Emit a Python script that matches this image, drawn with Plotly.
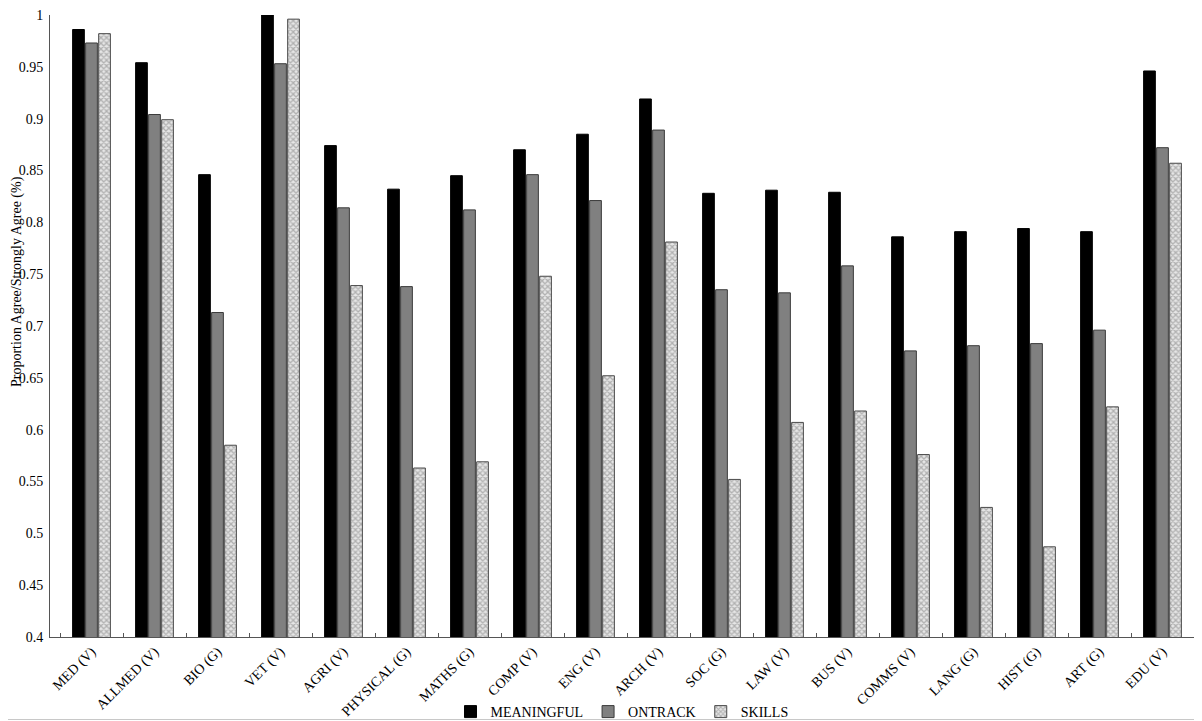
import plotly.graph_objects as go

categories = ["MED (V)", "ALLMED (V)", "BIO (G)", "VET (V)", "AGRI (V)", "PHYSICAL (G)",
              "MATHS (G)", "COMP (V)", "ENG (V)", "ARCH (V)", "SOC (G)", "LAW (V)",
              "BUS (V)", "COMMS (V)", "LANG (G)", "HIST (G)", "ART (G)", "EDU (V)"]
meaningful = [0.986, 0.954, 0.846, 1.000, 0.874, 0.832, 0.845, 0.870, 0.885, 0.919,
              0.828, 0.831, 0.829, 0.786, 0.791, 0.794, 0.791, 0.946]
ontrack = [0.973, 0.904, 0.713, 0.953, 0.814, 0.738, 0.812, 0.846, 0.821, 0.889,
           0.735, 0.732, 0.758, 0.676, 0.681, 0.683, 0.696, 0.872]
skills = [0.982, 0.899, 0.585, 0.996, 0.739, 0.563, 0.569, 0.748, 0.652, 0.781,
          0.552, 0.607, 0.618, 0.576, 0.525, 0.487, 0.622, 0.857]
y_ticks = [0.4, 0.45, 0.5, 0.55, 0.6, 0.65, 0.7, 0.75, 0.8, 0.85, 0.9, 0.95, 1.0]
y_tick_text = ["0.4", "0.45", "0.5", "0.55", "0.6", "0.65", "0.7", "0.75", "0.8",
               "0.85", "0.9", "0.95", "1"]
y_title = "Proportion Agree/Strongly Agree (%)"

FONT = "Liberation Serif, Times New Roman, serif"

fig = go.Figure()
fig.add_trace(go.Bar(name="MEANINGFUL", x=categories, y=meaningful,
                     marker=dict(color="#000000", line=dict(color="#000000", width=1))))
fig.add_trace(go.Bar(name="ONTRACK", x=categories, y=ontrack,
                     marker=dict(color="#808080", line=dict(color="#3a3a3a", width=1))))
fig.add_trace(go.Bar(name="SKILLS", x=categories, y=skills,
                     marker=dict(color="#d0d0d0", line=dict(color="#4a4a4a", width=1),
                                 pattern=dict(shape="x", fgcolor="#7a7a7a", bgcolor="#e6e6e6",
                                              size=4, solidity=0.55))))

# page body has an 8px margin, so the figure is drawn 8px right and down
W, H = 1194, 713
ml, mr, mt, mb = 42, 8, 7, 84
pw, ph = W - ml - mr, H - mt - mb

fig.update_layout(
    width=W, height=H,
    margin=dict(l=ml, r=mr, t=mt, b=mb, pad=0, autoexpand=False),
    paper_bgcolor="white", plot_bgcolor="white",
    barmode="group", bargap=0.38, bargroupgap=0.1,
    font=dict(family=FONT, color="#000000", size=14),
    showlegend=True,
    legend=dict(orientation="h", x=0.5, xanchor="center", y=-(704 - 629) / ph, yanchor="middle",
                font=dict(family=FONT, size=14), itemwidth=30, traceorder="normal",
                bgcolor="rgba(0,0,0,0)", tracegroupgap=0),
    xaxis=dict(range=[-0.5 - 10 / 63, 17.5], showline=True, linecolor="#555555", linewidth=1,
               tickangle=-45, ticks="inside", ticklen=4, tickcolor="#555555",
               tickson="boundaries", tickfont=dict(family=FONT, size=14),
               showgrid=False, zeroline=False, automargin=False),
    yaxis=dict(range=[0.4, 1.0], tickvals=y_ticks, ticktext=y_tick_text,
               showline=True, linecolor="#555555", linewidth=1, ticks="",
               showgrid=False, zeroline=False, tickfont=dict(family=FONT, size=14),
               automargin=False, ticklabeloverflow="allow", ticklabelstandoff=3),
    annotations=[dict(text=y_title, textangle=-90, xref="paper", yref="paper",
                      x=(9 - ml) / pw, y=(629 - 274) / ph, xanchor="center", yanchor="middle",
                      showarrow=False, font=dict(family=FONT, size=14))],
    shapes=[dict(type="line", xref="paper", yref="paper",
                 x0=1 + (mr - 1.5) / pw, x1=1 + (mr - 1.5) / pw,
                 y0=(-mb + 1.5) / ph, y1=1 + mt / ph,
                 line=dict(color="#c8c8c8", width=1)),
            dict(type="line", xref="paper", yref="paper",
                 x0=-ml / pw, x1=1 + (mr - 1.5) / pw,
                 y0=(-mb + 1.5) / ph, y1=(-mb + 1.5) / ph,
                 line=dict(color="#c8c8c8", width=1))],
)

fig.write_html("out.html")
